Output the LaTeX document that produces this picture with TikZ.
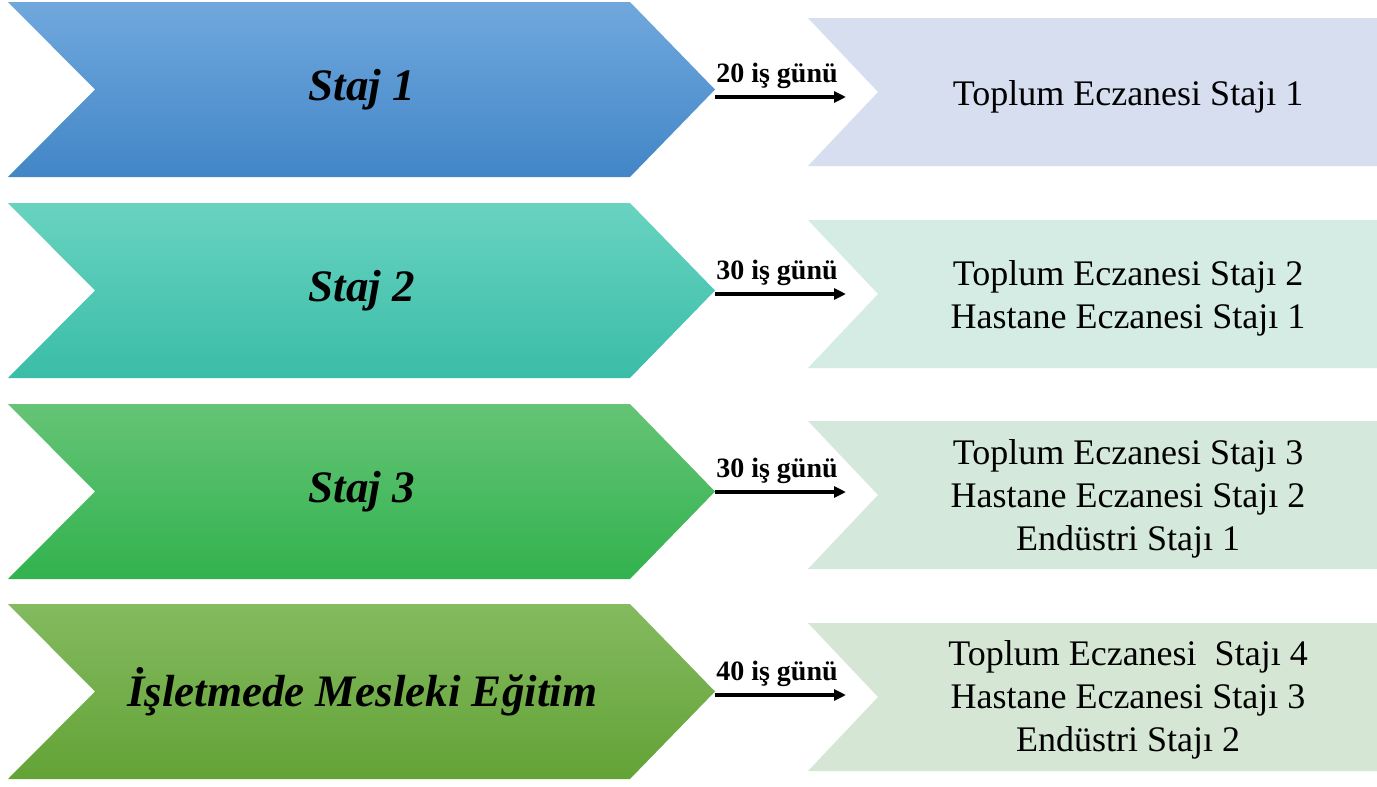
\documentclass[tikz,border=0pt]{standalone}
\usepackage{fontspec}
\setmainfont{Liberation Serif}
\usetikzlibrary{arrows.meta}
\definecolor{b1t}{RGB}{112,168,221}
\definecolor{b1b}{RGB}{66,134,199}
\definecolor{b2t}{RGB}{104,211,192}
\definecolor{b2b}{RGB}{58,189,168}
\definecolor{b3t}{RGB}{101,196,118}
\definecolor{b3b}{RGB}{50,178,78}
\definecolor{b4t}{RGB}{132,186,96}
\definecolor{b4b}{RGB}{99,163,54}
\definecolor{r1c}{RGB}{214,222,240}
\definecolor{r2c}{RGB}{213,236,229}
\definecolor{r3c}{RGB}{213,232,220}
\definecolor{r4c}{RGB}{214,230,212}
\tikzset{
  lefttext/.style={font=\fontsize{45}{50}\selectfont\bfseries\itshape, inner sep=0pt},
  righttext/.style={font=\fontsize{36}{43}\selectfont, align=center, inner sep=0pt},
  daylabel/.style={font=\fontsize{28}{30}\selectfont\bfseries, inner sep=0pt, anchor=base},
  conn/.style={line width=4pt, -{Triangle[length=12pt,width=11pt]}},
}
\begin{document}
\begin{tikzpicture}[x=1pt,y=-1pt]
\useasboundingbox (0,0) rectangle (1377,787);
\fill[white] (0,0) rectangle (1377,787);
% rows: chevron top, right box top
\foreach \i/\ct/\rt/\tc/\bc/\rc in {1/2/18/b1t/b1b/r1c, 2/203/220/b2t/b2b/r2c, 3/404/421/b3t/b3b/r3c, 4/604/623/b4t/b4b/r4c}{
  \pgfmathsetmacro{\cm}{\ct+87.5}
  \pgfmathsetmacro{\cb}{\ct+175}
  \pgfmathsetmacro{\rm}{\rt+74}
  \pgfmathsetmacro{\rb}{\rt+148}
  \shade[top color=\tc, bottom color=\bc] (8,\ct) -- (630,\ct) -- (715,\cm) -- (630,\cb) -- (8,\cb) -- (95,\cm) -- cycle;
  \fill[\rc] (808,\rt) -- (1377,\rt) -- (1377,\rb) -- (808,\rb) -- (878,\rm) -- cycle;
}
% left labels
\node[lefttext] (L1) at (362,90) {Staj 1};
\node[lefttext] (L2) at (362,291) {Staj 2};
\node[lefttext] (L3) at (362,492) {Staj 3};
\node[lefttext] (L4) at (362,692) {İşletmede Mesleki Eğitim};
% right texts
\node[righttext] (R1) at (1128,97) {Toplum Eczanesi Stajı 1};
\node[righttext] (R2) at (1128,298) {Toplum Eczanesi Stajı 2\\Hastane Eczanesi Stajı 1};
\node[righttext] (R3) at (1128,499) {Toplum Eczanesi Stajı 3\\Hastane Eczanesi Stajı 2\\Endüstri Stajı 1};
\node[righttext] (R4) at (1128,700) {Toplum Eczanesi\ \ Stajı 4\\Hastane Eczanesi Stajı 3\\Endüstri Stajı 2};
% connectors
\coordinate (A1) at (715,97);  \coordinate (B1) at (846,97);
\coordinate (A2) at (715,294); \coordinate (B2) at (846,294);
\coordinate (A3) at (715,492); \coordinate (B3) at (846,492);
\coordinate (A4) at (715,695); \coordinate (B4) at (846,695);
\draw[conn] (A1) -- (B1);
\draw[conn] (A2) -- (B2);
\draw[conn] (A3) -- (B3);
\draw[conn] (A4) -- (B4);
\node[daylabel] (D1) at (777,82) {20 iş günü};
\node[daylabel] (D2) at (777,279) {30 iş günü};
\node[daylabel] (D3) at (777,477) {30 iş günü};
\node[daylabel] (D4) at (777,680) {40 iş günü};
\end{tikzpicture}
\end{document}
